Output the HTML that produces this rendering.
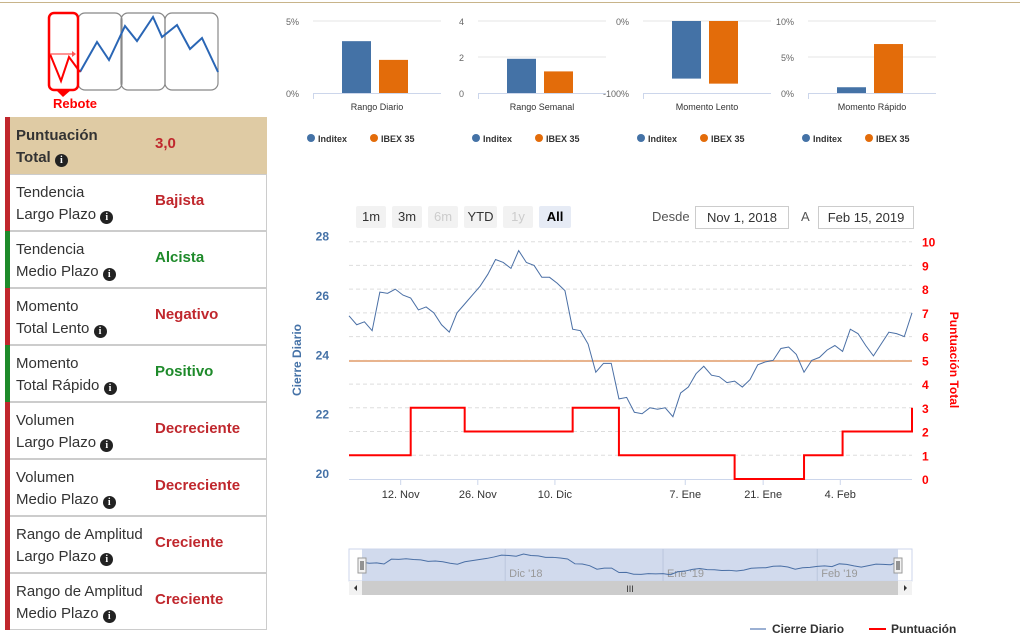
<!DOCTYPE html>
<html><head><meta charset="utf-8">
<style>
body{margin:0;width:1033px;height:643px;background:#fff;font-family:"Liberation Sans",sans-serif;position:relative;overflow:hidden}
.abs{position:absolute}
.row{position:absolute;left:5px;width:261px;height:55px;border:1px solid #ccc;border-left:none;background:#fff}
.row .bar{position:absolute;left:0;top:-1px;bottom:-1px;width:5px}
.row .lbl{position:absolute;left:11px;top:7px;font-size:15px;line-height:22px;color:#333}
.row .val{position:absolute;left:150px;top:17px;font-size:15px;font-weight:bold}
.info{display:inline-block;width:13px;height:13px;border-radius:50%;background:#222;color:#fff;font-size:10px;line-height:13px;text-align:center;font-weight:bold;font-family:"Liberation Serif",serif;vertical-align:-1px}
.red{color:#c0272d}.green{color:#1e8a2a}
.btn{position:absolute;top:206px;height:22px;line-height:22px;font-size:13px;text-align:center;background:#f2f2f2;color:#333;border-radius:2px}
.inp{position:absolute;top:206px;height:21px;line-height:21px;border:1px solid #ccc;font-size:13px;text-align:center;color:#333}
</style></head><body>
<div class="abs" style="left:0;top:2px;width:1020px;height:1px;background:#c8b48a"></div>

<svg class="abs" style="left:40px;top:8px" width="190" height="104">
 <rect x="38" y="5" width="44" height="77" rx="7" fill="none" stroke="#888" stroke-width="1.2"/>
 <rect x="81" y="5" width="44" height="77" rx="7" fill="none" stroke="#888" stroke-width="1.2"/>
 <rect x="125" y="5" width="53" height="77" rx="7" fill="none" stroke="#888" stroke-width="1.2"/>
 <polyline points="40,64 57,34 69,52 85,18 97,33 113,9 122,29 137,17 150,41 162,30 178,64" fill="none" stroke="#2a66b5" stroke-width="2"/>
 <rect x="9" y="5" width="29" height="77" rx="5" fill="none" stroke="#f00" stroke-width="2.5"/>
 <polyline points="10,46 21,73 29,49 40,64" fill="none" stroke="#f00" stroke-width="2"/>
 <line x1="10" y1="46" x2="32" y2="46" stroke="#f55" stroke-width="1.2"/><polygon points="32,43 36,46 32,49" fill="#f55"/>
 <polygon points="16,82 31,82 23,89" fill="#f00"/>
 <text x="35" y="100" text-anchor="middle" font-size="13" font-weight="bold" fill="#f00" font-family="Liberation Sans">Rebote</text>
</svg>

<div class="row" style="top:117px;background:#dfcba4;border-color:#dfcba4"><div class="bar" style="background:#c0272d"></div><div class="lbl" style="font-weight:bold;font-size:15px">Puntuación<br>Total <span class="info">i</span></div><div class="val red">3,0</div></div>
<div id="rows"></div>

<div id="minis"></div>

<div class="btn" style="left:356px;width:30px">1m</div>
<div class="btn" style="left:392px;width:30px">3m</div>
<div class="btn" style="left:428px;width:30px;color:#ccc">6m</div>
<div class="btn" style="left:464px;width:33px">YTD</div>
<div class="btn" style="left:503px;width:30px;color:#ccc">1y</div>
<div class="btn" style="left:539px;width:32px;background:#e6ebf5;font-weight:bold;color:#000">All</div>
<div class="abs" style="left:652px;top:209px;font-size:13px;color:#555">Desde</div>
<div class="inp" style="left:695px;width:92px">Nov 1, 2018</div>
<div class="abs" style="left:801px;top:209px;font-size:13px;color:#555">A</div>
<div class="inp" style="left:818px;width:94px">Feb 15, 2019</div>

<svg id="main" class="abs" style="left:0;top:0" width="1033" height="643"></svg>

<script>
const NS="http://www.w3.org/2000/svg";
function mk(p,tag,attrs,txt){const e=document.createElementNS(NS,tag);for(const k in attrs)e.setAttribute(k,attrs[k]);if(txt!==undefined)e.textContent=txt;p.appendChild(e);return e;}

const rowLabels=[["Tendencia","Largo Plazo"],["Tendencia","Medio Plazo"],["Momento","Total Lento"],["Momento","Total Rápido"],["Volumen","Largo Plazo"],["Volumen","Medio Plazo"],["Rango de Amplitud","Largo Plazo"],["Rango de Amplitud","Medio Plazo"]];
const rowValues=["Bajista","Alcista","Negativo","Positivo","Decreciente","Decreciente","Creciente","Creciente"];
const rowPositive=[false,true,false,true,false,false,false,false];
const rc=document.getElementById('rows');
rowLabels.forEach((l,i)=>{
 const d=document.createElement('div');d.className='row';d.style.top=(174+i*57)+'px';
 
 
 const c=rowPositive[i]?'green':'red';
 d.innerHTML='<div class="bar" style="background:'+(rowPositive[i]?'#1e8a2a':'#c0272d')+'"></div><div class="lbl">'+l[0]+'<br>'+l[1]+' <span class="info">i</span></div><div class="val '+c+'">'+rowValues[i]+'</div>';
 rc.appendChild(d);
});

const miniTitles=["Rango Diario","Rango Semanal","Momento Lento","Momento Rápido"];
const miniInditex=[3.6,1.9,-80,0.8];
const miniIbex=[2.3,1.2,-87,6.8];
const miniMin=[0,0,-100,0];
const miniMax=[5,4,0,10];
const miniTicks=[["5%","0%"],["4","2","0"],["0%","-100%"],["10%","5%","0%"]];
const miniLeft=[280,445,600,775];
const miniPad=[33,33,43,33];
const mc=document.getElementById('minis');
miniTitles.forEach((t,i)=>{
 const s=document.createElementNS(NS,'svg');s.setAttribute('width','175');s.setAttribute('height','150');
 s.setAttribute('class','abs');s.style.left=miniLeft[i]+'px';s.style.top='0px';
 
 
 mc.appendChild(s);
 const top=21,bot=93,pl=miniPad[i],pr=128;
 const y=v=>bot-(v-miniMin[i])/(miniMax[i]-miniMin[i])*(bot-top);
 const tk=miniTicks[i];
 tk.forEach((lab,k)=>{const yy=top+k*(bot-top)/(tk.length-1);
  if(k<tk.length-1)mk(s,'line',{x1:pl,x2:pl+pr,y1:yy,y2:yy,stroke:'#e6e6e6'});
  mk(s,'text',{x:pl-14,y:yy+4,'text-anchor':'end','font-size':9,fill:'#666'},lab);
 });
 mk(s,'line',{x1:pl,x2:pl+pr,y1:bot+.5,y2:bot+.5,stroke:'#ccd6eb'});
 mk(s,'line',{x1:pl+.5,x2:pl+.5,y1:bot,y2:bot+6,stroke:'#ccd6eb'});
 const zero=y(Math.max(miniMin[i],Math.min(0,miniMax[i])));
 const b1=mk(s,'rect',{x:pl+29,width:29,y:Math.min(y(miniInditex[i]),zero),height:Math.abs(y(miniInditex[i])-zero),fill:'#4472a6'});
 
 
 const b2=mk(s,'rect',{x:pl+66,width:29,y:Math.min(y(miniIbex[i]),zero),height:Math.abs(y(miniIbex[i])-zero),fill:'#e36c0a'});
 
 
 mk(s,'text',{x:pl+pr/2,y:110,'text-anchor':'middle','font-size':9,fill:'#333'},t);
 const lx=pl-2;
 mk(s,'circle',{cx:lx,cy:138,r:4,fill:'#4472a6'});
 mk(s,'text',{x:lx+7,y:142,'font-size':9,'font-weight':'bold',fill:'#333'},'Inditex');
 mk(s,'circle',{cx:lx+63,cy:138,r:4,fill:'#e36c0a'});
 mk(s,'text',{x:lx+70,y:142,'font-size':9,'font-weight':'bold',fill:'#333'},'IBEX 35');
});

const closes=[25.5,25.2,25.3,25.0,26.3,26.26,26.4,26.2,26.1,25.7,25.8,25.6,25.2,24.95,25.6,25.9,26.2,26.5,26.9,27.4,27.3,27.1,27.7,27.3,27.2,26.8,26.8,26.6,26.35,25.05,25.0,24.55,23.6,23.9,23.9,22.7,22.75,22.25,22.2,22.4,22.35,22.4,22.1,22.9,23.1,23.55,23.8,23.5,23.45,23.25,23.3,23.1,23.35,23.85,23.95,24.0,24.4,24.45,24.2,23.6,24.0,24.1,24.35,24.5,24.3,25.05,24.9,24.5,24.15,24.55,24.95,24.9,24.8,25.6];
const scores=[1,1,1,1,1,1,1,1,3,3,3,3,3,3,3,2,2,2,2,2,2,2,2,2,2,2,2,2,2,3,3,3,3,3,3,1,1,1,1,1,1,1,1,1,1,1,1,1,1,1,0,0,0,0,0,0,0,0,0,1,1,1,1,1,2,2,2,2,2,2,2,2,2,3];
const avgLine=23.98;
const leftTicks=[20,22,24,26,28];
const rightTicks=[0,1,2,3,4,5,6,7,8,9,10];
const xTickIdx=[6.7,16.7,26.7,43.6,53.7,63.7];
const xTickLabels=["12. Nov","26. Nov","10. Dic","7. Ene","21. Ene","4. Feb"];
const navTickIdx=[19.5,41,62];
const navTickLabels=["Dic '18","Ene '19","Feb '19"];

const svg=document.getElementById('main');
const X0=349,X1=912,T=241.7,B=479;
const x=i=>X0+i*(X1-X0)/(closes.length-1);
const yL=v=>B-(v-20)/8*(B-T);
const yR=v=>B-v/10*(B-T);
rightTicks.forEach(v=>{const yy=yR(v);if(v>0)mk(svg,'line',{x1:X0,x2:X1,y1:yy,y2:yy,stroke:'#ddd','stroke-dasharray':'4,3'});
 mk(svg,'text',{x:922,y:yy+5,'font-size':12,'font-weight':'bold',fill:'#f00'},v);});
leftTicks.forEach(v=>{mk(svg,'text',{x:329,y:yL(v)-1,'text-anchor':'end','font-size':12,'font-weight':'bold',fill:'#4572a7'},v);});
mk(svg,'line',{x1:X0,x2:X1,y1:B+.5,y2:B+.5,stroke:'#ccd6eb'});
xTickIdx.forEach((ix,k)=>{const xx=x(ix);mk(svg,'line',{x1:xx,x2:xx,y1:B,y2:B+6,stroke:'#ccd6eb'});
 mk(svg,'text',{x:xx,y:B+19,'text-anchor':'middle','font-size':11,fill:'#333'},xTickLabels[k]);});
const ta=mk(svg,'text',{x:0,y:0,transform:'translate(301,360) rotate(-90)','text-anchor':'middle','font-size':12,'font-weight':'bold',fill:'#4572a7'},'Cierre Diario');


const tb=mk(svg,'text',{x:0,y:0,transform:'translate(950,360) rotate(90)','text-anchor':'middle','font-size':12,'font-weight':'bold',fill:'#f00'},'Puntuación Total');


const av=mk(svg,'line',{x1:X0,x2:X1,y1:yL(avgLine),y2:yL(avgLine),stroke:'#e8b48e','stroke-width':2});


const cl=mk(svg,'polyline',{points:closes.map((v,i)=>x(i)+','+yL(v)).join(' '),fill:'none',stroke:'#4a6fa5','stroke-width':1});


let pts=[];scores.forEach((v,i)=>{if(i>0)pts.push(x(i)+','+yR(scores[i-1]));pts.push(x(i)+','+yR(v));});
const sl=mk(svg,'polyline',{points:pts.join(' '),fill:'none',stroke:'#f00','stroke-width':2});



const NT=549,NB=581;
mk(svg,'rect',{x:X0,y:NT,width:X1-X0,height:NB-NT,fill:'#fff',stroke:'#ccd6eb'});
const mask=mk(svg,'rect',{x:362,y:NT,width:536,height:NB-NT,fill:'#ccd6eb',opacity:.9});


const xn=i=>362+i*536/(closes.length-1);
const yn=v=>NB-4-(v-21.5)/7*(NB-NT-6);
navTickIdx.forEach((ix,k)=>{const xx=xn(ix);mk(svg,'line',{x1:xx,x2:xx,y1:NT,y2:NB,stroke:'#bbc6dd'});
 mk(svg,'text',{x:xx+4,y:NB-4,'font-size':11,fill:'#999'},navTickLabels[k]);});
mk(svg,'polyline',{points:closes.map((v,i)=>xn(i)+','+yn(v)).join(' '),fill:'none',stroke:'#4a6fa5','stroke-width':1});
[362,898].forEach(hx=>{const h=mk(svg,'rect',{x:hx-4,y:558,width:8,height:15,fill:'#f2f2f2',stroke:'#999'});
 
 
 mk(svg,'line',{x1:hx-1,x2:hx-1,y1:561,y2:570,stroke:'#333'});mk(svg,'line',{x1:hx+1,x2:hx+1,y1:561,y2:570,stroke:'#333'});});
const sb=mk(svg,'rect',{x:X0,y:581,width:X1-X0,height:14,fill:'#f2f2f2'});


mk(svg,'rect',{x:362,y:581,width:536,height:14,fill:'#ccc'});
mk(svg,'text',{x:630,y:592,'text-anchor':'middle','font-size':9,fill:'#333'},'III');
mk(svg,'polygon',{points:'354,588 357,585 357,591',fill:'#333'});
mk(svg,'polygon',{points:'907,588 904,585 904,591',fill:'#333'});

const l1=mk(svg,'line',{x1:750,x2:766,y1:629,y2:629,stroke:'#9bb0d3','stroke-width':2});


mk(svg,'text',{x:772,y:633,'font-size':12,'font-weight':'bold',fill:'#333'},'Cierre Diario');
const l2=mk(svg,'line',{x1:869,x2:886,y1:629,y2:629,stroke:'#f00','stroke-width':2});


mk(svg,'text',{x:891,y:633,'font-size':12,'font-weight':'bold',fill:'#333'},'Puntuación');
</script>
</body></html>
